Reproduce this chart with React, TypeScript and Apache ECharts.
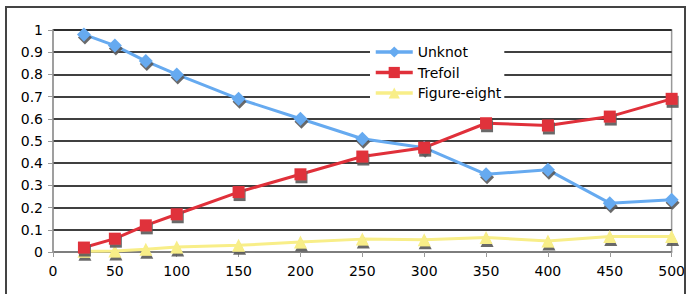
import React, { useEffect, useRef } from "react";
import * as echarts from "echarts";

const xValues = [25, 50, 75, 100, 150, 200, 250, 300, 350, 400, 450, 500];
const unknot = [0.98, 0.93, 0.86, 0.8, 0.69, 0.6, 0.51, 0.47, 0.35, 0.37, 0.22, 0.235];
const trefoil = [0.02, 0.06, 0.12, 0.17, 0.27, 0.35, 0.43, 0.47, 0.58, 0.57, 0.61, 0.69];
const figureEight = [0.003, 0.005, 0.012, 0.022, 0.03, 0.045, 0.058, 0.055, 0.065, 0.05, 0.07, 0.07];
const seriesNames = ["Unknot", "Trefoil", "Figure-eight"];

const FONT = "DejaVu Sans";

export default function App() {
  const ref = useRef<HTMLDivElement>(null);
  useEffect(() => {
    const chart = echarts.init(ref.current!, null, { renderer: "svg" });
    const pair = (ys: number[]) => xValues.map((x, i) => [x, ys[i]]);
    const shadow = {
      shadowColor: "rgba(90,90,90,0.9)",
      shadowBlur: 0,
      shadowOffsetX: 1,
      shadowOffsetY: 3,
    };
    chart.setOption({
      animation: false,
      backgroundColor: "#fff",
      grid: { left: 53, top: 30, right: 16, bottom: 42, show: true, borderColor: "#999", borderWidth: 1.5 },
      graphic: [
        {
          type: "rect",
          shape: { x: 6, y: 7, width: 679, height: 300 },
          style: { fill: "none", stroke: "#444", lineWidth: 2 },
          z: 100,
        },
      ],
      legend: {
        orient: "vertical",
        left: 370,
        top: 42,
        backgroundColor: "#fff",
        padding: [3, 3, 5, 4],
        itemGap: 6.5,
        itemWidth: 37,
        itemHeight: 14,
        lineStyle: { width: 3.5 },
        textStyle: { fontFamily: FONT, fontSize: 14, color: "#000" },
        data: seriesNames,
        z: 10,
      },
      xAxis: {
        type: "value",
        min: 0,
        max: 500,
        interval: 50,
        splitLine: { show: false },
        axisLine: { show: true, lineStyle: { color: "#999", width: 1.5 } },
        axisTick: { show: true, length: 5, lineStyle: { color: "#999" } },
        axisLabel: { fontFamily: FONT, fontSize: 14, color: "#000", margin: 12 },
      },
      yAxis: {
        type: "value",
        min: 0,
        max: 1,
        interval: 0.1,
        splitLine: { show: true, lineStyle: { color: "#000", width: 1.5 } },
        axisLine: { show: true, lineStyle: { color: "#999", width: 1.5 } },
        axisTick: { show: true, length: 5, lineStyle: { color: "#999" } },
        axisLabel: { fontFamily: FONT, fontSize: 14, color: "#000", margin: 10 },
      },
      series: [
        {
          name: seriesNames[0],
          type: "line",
          data: pair(unknot),
          symbol: "diamond",
          symbolSize: 14,
          lineStyle: { color: "#66aaf0", width: 3 },
          itemStyle: { color: "#66aaf0", ...shadow },
          emphasis: { disabled: true },
          z: 3,
        },
        {
          name: seriesNames[1],
          type: "line",
          data: pair(trefoil),
          symbol: "rect",
          symbolSize: 12,
          lineStyle: { color: "#e0303a", width: 3 },
          itemStyle: { color: "#e0303a", ...shadow },
          emphasis: { disabled: true },
          z: 4,
        },
        {
          name: seriesNames[2],
          type: "line",
          data: pair(figureEight),
          symbol: "triangle",
          symbolSize: 13,
          lineStyle: { color: "#f8ee88", width: 3 },
          itemStyle: { color: "#f8ee88", ...shadow },
          emphasis: { disabled: true },
          z: 2,
        },
      ],
    });
    return () => chart.dispose();
  }, []);
  return (
    <div
      ref={ref}
      style={{ position: "fixed", left: 0, top: 0, width: 688, height: 294 }}
    />
  );
}
